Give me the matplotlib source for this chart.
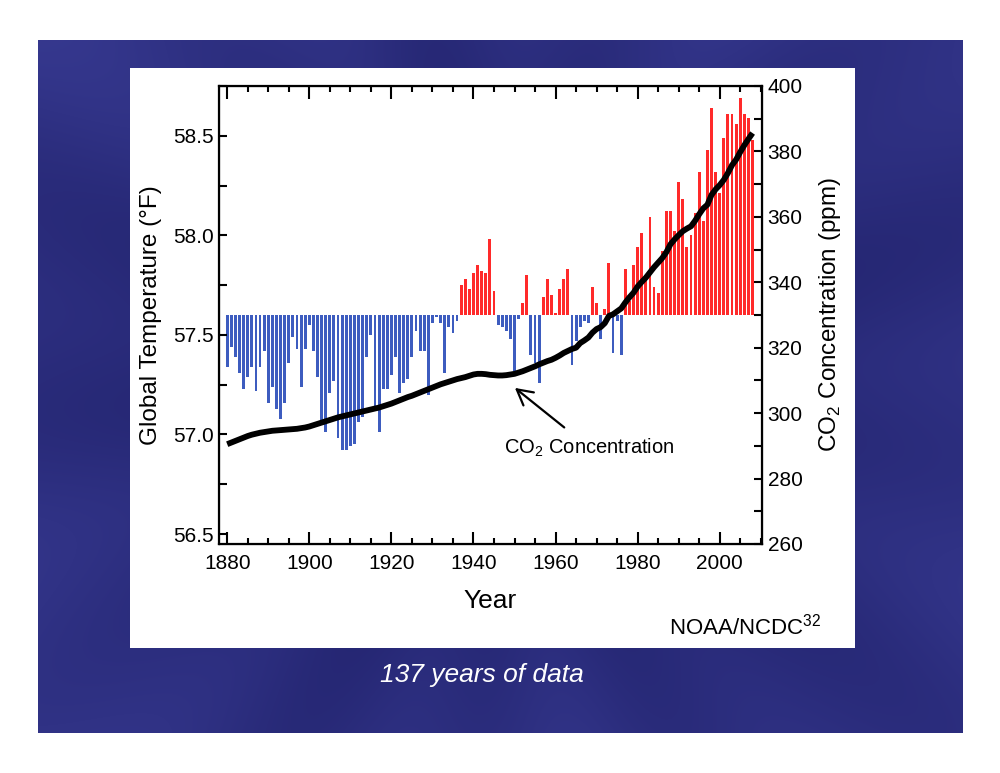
import numpy as np
import matplotlib
matplotlib.use("Agg")
import matplotlib.pyplot as plt
from matplotlib.ticker import MultipleLocator

plt.rcParams['font.family'] = ['Liberation Sans', 'DejaVu Sans']
plt.rcParams['mathtext.fontset'] = 'custom'
plt.rcParams['mathtext.rm'] = 'Liberation Sans'

# global temperature, deg F, one bar per year 1880-2008
years = np.arange(1880, 2009)
temp_f = [
    57.34, 57.44, 57.39, 57.31, 57.23, 57.29, 57.34, 57.22, 57.34, 57.42,  # 1880s
    57.16, 57.24, 57.13, 57.08, 57.16, 57.36, 57.49, 57.43, 57.24, 57.43,  # 1890s
    57.55, 57.42, 57.29, 57.07, 57.01, 57.21, 57.27, 56.98, 56.92, 56.92,  # 1900s
    56.94, 56.95, 57.06, 57.09, 57.39, 57.50, 57.14, 57.01, 57.23, 57.23,  # 1910s
    57.30, 57.39, 57.21, 57.26, 57.28, 57.39, 57.52, 57.42, 57.42, 57.20,  # 1920s
    57.56, 57.59, 57.56, 57.31, 57.54, 57.51, 57.57, 57.75, 57.78, 57.73,  # 1930s
    57.81, 57.85, 57.82, 57.81, 57.98, 57.72, 57.55, 57.54, 57.52, 57.48,  # 1940s
    57.32, 57.58, 57.66, 57.80, 57.40, 57.36, 57.26, 57.69, 57.78, 57.70,  # 1950s
    57.61, 57.73, 57.78, 57.83, 57.35, 57.47, 57.54, 57.57, 57.56, 57.74,  # 1960s
    57.66, 57.48, 57.63, 57.86, 57.41, 57.57, 57.40, 57.83, 57.67, 57.85,  # 1970s
    57.94, 58.01, 57.80, 58.09, 57.74, 57.71, 57.92, 58.12, 58.12, 58.02,  # 1980s
    58.27, 58.18, 57.94, 58.00, 58.11, 58.32, 58.07, 58.43, 58.64, 58.32,  # 1990s
    58.21, 58.49, 58.61, 58.61, 58.56, 58.69, 58.61, 58.59, 58.48,         # 2000s
]
baseline = 57.6

# CO2 concentration, ppm, 1880-2008
co2_ppm = [
    290.5, 291.0, 291.5, 292.0, 292.5, 293.0, 293.4, 293.7, 294.0, 294.2,
    294.4, 294.6, 294.7, 294.8, 294.9, 295.0, 295.1, 295.2, 295.4, 295.6,
    295.9, 296.3, 296.7, 297.1, 297.5, 297.9, 298.3, 298.7, 299.0, 299.3,
    299.6, 299.9, 300.2, 300.5, 300.8, 301.1, 301.4, 301.7, 302.1, 302.5,
    302.9, 303.4, 303.9, 304.4, 304.9, 305.3, 305.8, 306.3, 306.8, 307.3,
    307.8, 308.3, 308.8, 309.2, 309.6, 310.0, 310.4, 310.7, 311.0, 311.4,
    311.8, 312.0, 312.0, 311.9, 311.7, 311.6, 311.5, 311.5, 311.6, 311.8,
    312.0, 312.4, 312.8, 313.3, 313.8, 314.3, 314.9, 315.4, 315.9, 316.3,
    316.9, 317.6, 318.4, 319.0, 319.6, 320.0, 321.4, 322.2, 323.1, 324.6,
    325.7, 326.3, 327.5, 329.7, 330.2, 331.1, 332.0, 333.8, 335.4, 336.8,
    338.7, 340.1, 341.4, 343.0, 344.6, 346.0, 347.4, 349.2, 351.6, 353.1,
    354.4, 355.6, 356.4, 357.1, 358.8, 360.8, 362.6, 363.7, 366.7, 368.4,
    369.7, 371.3, 373.4, 375.8, 377.5, 379.8, 381.9, 383.8, 385.6,
]

x_ticks = [1880, 1900, 1920, 1940, 1960, 1980, 2000]
temp_ticks = [56.5, 57.0, 57.5, 58.0, 58.5]
co2_ticks = [260, 280, 300, 320, 340, 360, 380, 400]

fig = plt.figure(figsize=(10, 7.73), dpi=100)
fig.patch.set_facecolor('white')

# slide background with soft rays
bg = fig.add_axes([0.038, 0.0517, 0.924, 0.8965])
bg.axis('off')
h, w = 300, 400
yy, xx = np.mgrid[0:h, 0:w]
ang = np.arctan2(yy - 0.5 * h, xx - 0.5 * w)
rad = np.hypot((xx - 0.5 * w) / w, (yy - 0.5 * h) / h)
rays = 0.5 + 0.5 * np.cos(9 * ang) * np.cos(4 * ang + 1.0)
shade = np.clip(0.1 + 0.8 * rad * (0.45 + 0.55 * rays), 0, 1)
dark = np.array([0x1c, 0x1d, 0x64]) / 255
light = np.array([0x44, 0x47, 0xa6]) / 255
img = dark + shade[..., None] * (light - dark)
bg.imshow(img, aspect='auto', extent=[0, 1, 0, 1], interpolation='bilinear')

# white panel behind the chart
panel = fig.add_axes([0.130, 0.1617, 0.725, 0.7503])
panel.set_facecolor('white')
panel.set_xticks([])
panel.set_yticks([])
for s in panel.spines.values():
    s.set_visible(False)

ax = fig.add_axes([0.219, 0.2963, 0.543, 0.5925])
ax.set_facecolor('white')
temp = np.array(temp_f)
colors = ['#ff2a2a' if t >= baseline else '#3d5cbf' for t in temp]
ax.bar(years, temp - baseline, bottom=baseline, width=0.7, color=colors, linewidth=0)
ax.set_xlim(1878, 2010.3)
ax.set_ylim(56.45, 58.75)
ax.set_xticks(x_ticks)
ax.xaxis.set_minor_locator(MultipleLocator(5))
ax.set_yticks(temp_ticks)
ax.set_yticklabels([f'{t:.1f}' for t in temp_ticks])
ax.yaxis.set_minor_locator(MultipleLocator(0.25))
ax.tick_params(axis='x', which='both', direction='in', top=True, labelsize=15, pad=7)
ax.tick_params(axis='x', which='major', length=9, width=1.5)
ax.tick_params(axis='x', which='minor', length=4.5, width=1.5)
ax.tick_params(axis='y', which='both', direction='in', right=False, length=6, width=1.5, labelsize=15, pad=4)
for s in ax.spines.values():
    s.set_linewidth(1.6)
ax.set_xlabel('Year', fontsize=19, labelpad=12)
ax.set_ylabel('Global Temperature (°F)', fontsize=17.5, labelpad=8)

ax2 = ax.twinx()
ax2.plot(years, co2_ppm, color='black', linewidth=4.2, solid_capstyle='butt')
ax2.set_ylim(260, 400)
ax2.set_yticks(co2_ticks)
ax2.yaxis.set_minor_locator(MultipleLocator(10))
ax2.tick_params(axis='y', which='both', direction='in', length=6, width=1.5, labelsize=15, pad=4)
ax2.set_ylabel(r'CO$_\mathregular{2}$ Concentration (ppm)', fontsize=17.5, labelpad=10)

ax2.annotate(r'CO$_\mathregular{2}$ Concentration', xy=(1950.1, 307.7), xytext=(1968.2, 289.5),
             ha='center', va='center', fontsize=14.5,
             arrowprops=dict(arrowstyle='->,head_length=0.55,head_width=0.3', color='black',
                             lw=1.6, shrinkA=7, shrinkB=0, mutation_scale=20))

fig.text(0.821, 0.190, r'NOAA/NCDC$^\mathregular{32}$', ha='right', va='center', fontsize=16)
fig.text(0.482, 0.127, '137 years of data', ha='center', va='center', fontsize=19,
         style='italic', color='white')

fig.savefig('out.png', dpi=100)
